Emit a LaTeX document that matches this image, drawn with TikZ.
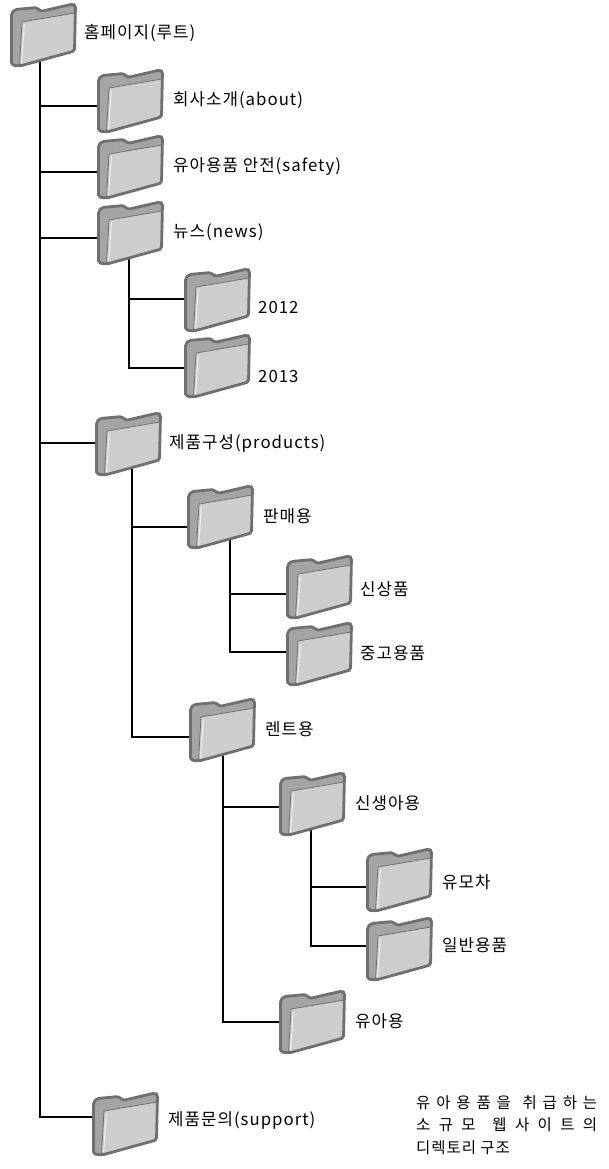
\documentclass[tikz,border=0pt]{standalone}
\usepackage{fontspec}
\newfontfamily\kr{Noto Sans CJK KR}[LetterSpace=6]
\usetikzlibrary{positioning}
\usetikzlibrary{backgrounds}

\definecolor{folderline}{HTML}{6F6F6F}
\definecolor{folderback}{HTML}{A4A4A4}
\definecolor{folderfront}{HTML}{CDCDCD}

\tikzset{
  folder/.style={minimum width=69pt, minimum height=67pt, inner sep=0pt, outer sep=-3pt},
  foldericon/.pic={
    \begin{scope}[shift={(-32.5,-31.5)}]
      \fill[folderback, rounded corners=2pt] (0.5,62) -- (0.5,10) -- (4,6.5) -- (26,4.5) -- (29.5,8.5) -- (62,1) -- (64.5,2.5) -- (63.5,48) -- (9,63) -- cycle;
      \filldraw[fill=folderfront, draw=folderline, line width=0.8pt] (11,19) -- (64,10) -- (63.5,48) -- (8.5,63) -- cycle;
      \draw[white!70!folderfront, line width=1pt] (13.3,21.5) -- (10.6,60);
      \draw[folderline, line width=2.8pt, rounded corners=2pt, line join=round] (0.5,62) -- (0.5,10) -- (4,6.5) -- (26,4.5) -- (29.5,8.5) -- (62,1) -- (64.5,2.5) -- (63.5,48) -- (9,63) -- cycle;
    \end{scope}},
  tree/.style={line width=1.8pt, black},
  dirname/.style={inner sep=0pt, font=\kr\fontsize{16.8}{19}\selectfont},
  captiontext/.style={inner sep=0pt, align=left, font=\kr\fontsize{15.5}{22.5}\selectfont},
}

\begin{document}
\begin{tikzpicture}[x=1pt, y=-1pt]
\useasboundingbox (0,0) rectangle (608,1169);

\node[folder] (root) at (43.5,34.5) {};
\node[folder] (about) at (130.5,100.5) {};
\node[folder] (safety) at (130.5,166.5) {};
\node[folder] (news) at (130.5,232.5) {};
\node[folder] (y2012) at (217.5,299.5) {};
\node[folder] (y2013) at (217.5,365.5) {};
\node[folder] (products) at (128.5,443.5) {};
\node[folder] (sale) at (220.5,516.5) {};
\node[folder] (newitem) at (319.5,586.5) {};
\node[folder] (used) at (319.5,653.5) {};
\node[folder] (rent) at (222.5,729.5) {};
\node[folder] (newborn) at (312.5,803.5) {};
\node[folder] (stroller) at (399.5,879.5) {};
\node[folder] (general) at (399.5,948.5) {};
\node[folder] (infant) at (312.5,1021.5) {};
\node[folder] (support) at (125.5,1123.5) {};

\foreach \f in {root,about,safety,news,y2012,y2013,products,sale,newitem,used,rent,newborn,stroller,general,infant,support}
  \pic at (\f.center) {foldericon};

\node[dirname, right=9pt of root, yshift=1.5pt] (rootname) {홈페이지(루트)};
\node[dirname, right=11pt of about] (aboutname) {회사소개(about)};
\node[dirname, right=11pt of safety] (safetyname) {유아용품 안전(safety)};
\node[dirname, right=11pt of news] (newsname) {뉴스(news)};
\node[dirname, right=9pt of y2012, yshift=-8.5pt] (y2012name) {2012};
\node[dirname, right=9pt of y2013, yshift=-11.5pt] (y2013name) {2013};
\node[dirname, right=9pt of products] (productsname) {제품구성(products)};
\node[dirname, right=11pt of sale] (salename) {판매용};
\node[dirname, right=9pt of newitem, yshift=-3pt] (newitemname) {신상품};
\node[dirname, right=9pt of used] (usedname) {중고용품};
\node[dirname, right=11pt of rent] (rentname) {렌트용};
\node[dirname, right=11pt of newborn] (newbornname) {신생아용};
\node[dirname, right=11pt of stroller, yshift=-2.5pt] (strollername) {유모차};
\node[dirname, right=11pt of general, yshift=3.5pt] (generalname) {일반용품};
\node[dirname, right=11pt of infant] (infantname) {유아용};
\node[dirname, right=11pt of support, yshift=3.5pt] (supportname) {제품문의(support)};

\node[captiontext, anchor=north west] (title) at (416,1095)
  {\makebox[181pt][s]{유 아 용 품 을 \ 취 급 하 는}\\
   \makebox[181pt][s]{소 규 모 \ 웹 사 이 트 의}\\
   디렉토리 구조};

\begin{scope}[on background layer]
%main trunk
\draw[tree] ([xshift=-3.5pt]root.center) |- ([yshift=6.5pt]support.west);
\draw[tree] ([xshift=-3.5pt]root.center) |- ([yshift=-5.5pt]about.west);
\draw[tree] ([xshift=-3.5pt]root.center) |- ([yshift=-5.5pt]safety.west);
\draw[tree] ([xshift=-3.5pt]root.center) |- ([yshift=-5.5pt]news.west);
\draw[tree] ([xshift=-3.5pt]root.center) |- ([yshift=0.5pt]products.west);

\draw[tree] ([xshift=-1.5pt]news.center) |- ([yshift=0.5pt]y2012.west);
\draw[tree] ([xshift=-1.5pt]news.center) |- ([yshift=-2.5pt]y2013.west);

\draw[tree] ([xshift=3.5pt]products.center) |- ([yshift=-10.5pt]sale.west);
\draw[tree] ([xshift=3.5pt]products.center) |- ([yshift=-7.5pt]rent.west);

\draw[tree] ([xshift=9.5pt]sale.center) |- ([yshift=-7.5pt]newitem.west);
\draw[tree] ([xshift=9.5pt]sale.center) |- ([yshift=1.5pt]used.west);

\draw[tree] ([xshift=0.5pt]rent.center) |- ([yshift=-3.5pt]newborn.west);
\draw[tree] ([xshift=0.5pt]rent.center) |- ([yshift=-0.5pt]infant.west);

\draw[tree] ([xshift=-1.5pt]newborn.center) |- ([yshift=-7.5pt]stroller.west);
\draw[tree] ([xshift=-1.5pt]newborn.center) |- ([yshift=2.5pt]general.west);
\end{scope}

\end{tikzpicture}
\end{document}
